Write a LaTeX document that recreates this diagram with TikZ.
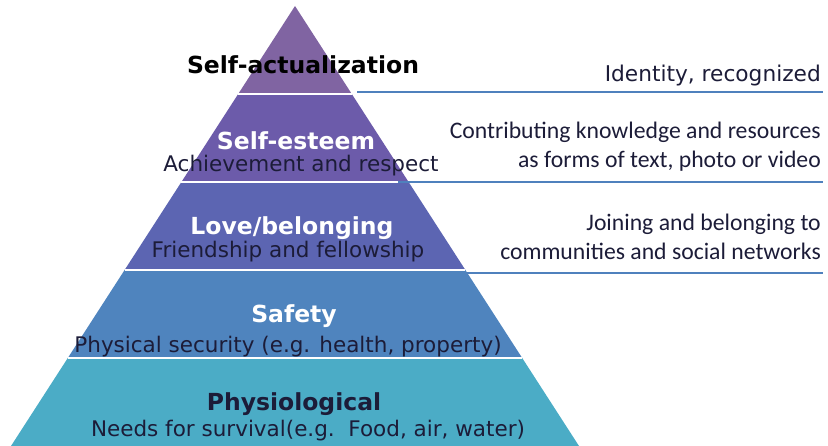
\documentclass[tikz,border=0pt]{standalone}
\usepackage{fontspec}
\setmainfont{DejaVu Sans}
\newfontfamily\notefont{Carlito}
\usetikzlibrary{calc}

\definecolor{selfact}{HTML}{8064A2}
\definecolor{esteem}{HTML}{6C5BAA}
\definecolor{love}{HTML}{5C65B2}
\definecolor{safety}{HTML}{4F84BE}
\definecolor{physio}{HTML}{4BACC6}
\definecolor{rule}{HTML}{4F81BD}
\definecolor{subtext}{HTML}{1C1C38}

\begin{document}
\begin{tikzpicture}[x=1pt,y=-1pt,
  level name/.style={font=\bfseries\fontsize{23.5}{28}\selectfont,anchor=base,inner sep=0pt},
  level text/.style={font=\fontsize{21.5}{26}\selectfont,text=subtext,anchor=base,inner sep=0pt},
  note text/.style={font=\notefont\fontsize{23.7}{28}\selectfont,text=subtext,anchor=base east,inner sep=0pt},
  note line/.style={draw=rule,line width=1.5pt}]

  \useasboundingbox (0,0) rectangle (828,446);

  \coordinate (apex) at (295,6);
  \coordinate (bl) at (11,446);
  \coordinate (br) at (579,446);

  % the five layers, top to bottom
  \foreach \col [count=\i] in {selfact,esteem,love,safety,physio} {
    \pgfmathsetmacro\ta{(\i-1)/5}
    \pgfmathsetmacro\tb{\i/5}
    \fill[\col] ($(apex)!\ta!(bl)$) -- ($(apex)!\tb!(bl)$)
      -- ($(apex)!\tb!(br)$) -- ($(apex)!\ta!(br)$) -- cycle;
  }
  % white gaps between layers
  \foreach \t in {0.2,0.4,0.6,0.8}
    \draw[white,line width=2pt] ($(apex)!\t!(bl)$) -- ($(apex)!\t!(br)$);

  % level names
  \node[level name] (act) at (303,74) {Self-actualization};
  \node[level name,text=white] (est) at (296,150) {Self-esteem};
  \node[level text] (estsub) at (301,172) {Achievement and respect};
  \node[level name,text=white] (lov) at (292,235) {Love/belonging};
  \node[level text] (lovsub) at (288,258) {Friendship and fellowship};
  \node[level name,text=white] (saf) at (294,323) {Safety};
  \node[level text] (safsub) at (288,353) {Physical security (e.g. health, property)};
  \node[level name,text=subtext] (phy) at (294,410) {Physiological};
  \node[level text] (physub) at (308,437) {Needs for survival(e.g.\ \ Food, air, water)};

  % notes on the right
  \node[note text,font=\fontsize{21.7}{26}\selectfont] (id) at (821,82) {Identity, recognized};
  \node[note text] (con1) at (821,139) {Contributing knowledge and resources};
  \node[note text] (con2) at (821,168) {as forms of text, photo or video};
  \node[note text] (join1) at (821,231) {Joining and belonging to};
  \node[note text] (join2) at (821,260) {communities and social networks};

  \coordinate (r1a) at (357,92);  \coordinate (r1b) at (823,92);
  \coordinate (r2a) at (398,182); \coordinate (r2b) at (823,182);
  \coordinate (r3a) at (466,273); \coordinate (r3b) at (823,273);
  \draw[note line] (r1a) -- (r1b);
  \draw[note line] (r2a) -- (r2b);
  \draw[note line] (r3a) -- (r3b);
\end{tikzpicture}
\end{document}
